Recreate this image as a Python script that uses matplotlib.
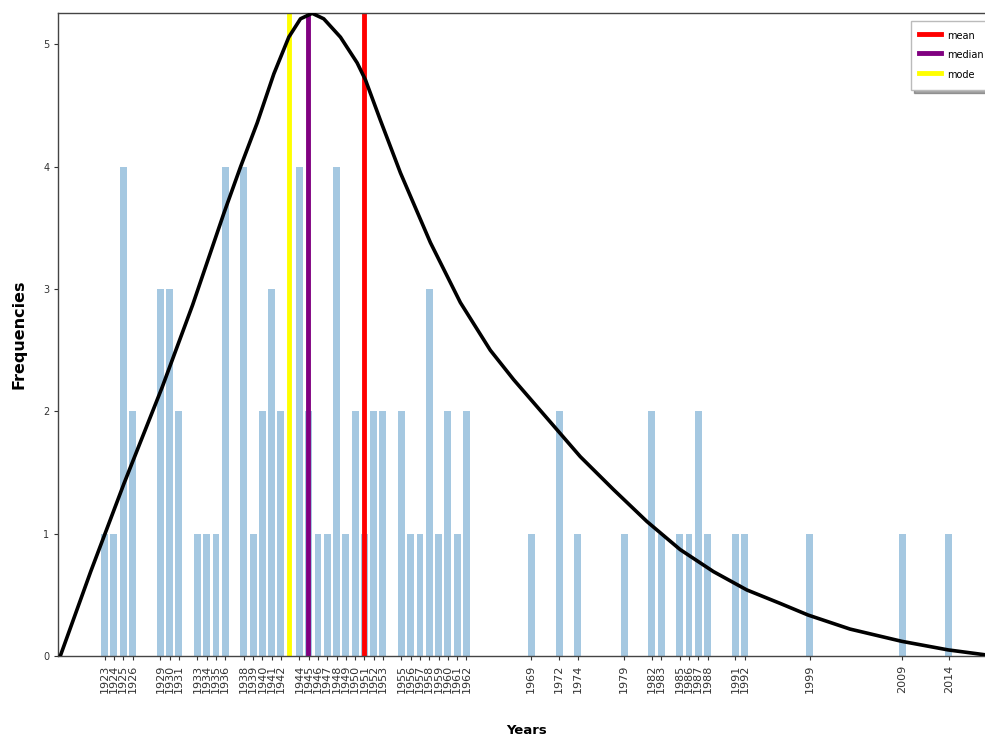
#Histogram of years with fitted curve and mean / median / mode markers
import numpy as np
import matplotlib.pyplot as plt

# years present in the data and how often each one occurs
years = [1923, 1924, 1925, 1926, 1929, 1930, 1931, 1933, 1934, 1935, 1936,
         1938, 1939, 1940, 1941, 1942, 1944, 1945, 1946, 1947, 1948, 1949,
         1950, 1951, 1952, 1953, 1955, 1956, 1957, 1958, 1959, 1960, 1961,
         1962, 1969, 1972, 1974, 1979, 1982, 1983, 1985, 1986, 1987, 1988,
         1991, 1992, 1999, 2009, 2014]
counts = [1, 1, 4, 2, 3, 3, 2, 1, 1, 1, 4,
          4, 1, 2, 3, 2, 4, 2, 1, 1, 4, 1,
          2, 1, 2, 2, 2, 1, 1, 3, 1, 2, 1,
          2, 1, 2, 1, 1, 2, 1, 1, 1, 2, 1,
          1, 1, 1, 1, 1]

# fitted density curve (scaled)
curve_x = [1918.26, 1921.49, 1925.08, 1929.21, 1932.48, 1935.85, 1937.65,
           1939.45, 1941.24, 1942.85, 1944.11, 1945.37, 1946.62, 1948.42,
           1950.22, 1951.12, 1952.73, 1954.89, 1958.12, 1961.35, 1964.58,
           1967.09, 1971.77, 1974.28, 1977.87, 1981.46, 1985.05, 1988.64,
           1992.24, 1995.83, 1998.84, 2003.37, 2008.94, 2013.93, 2017.91,
           2019.0]
curve_y = [0.01, 0.69, 1.41, 2.20, 2.87, 3.62, 4.00,
           4.36, 4.76, 5.06, 5.21, 5.255, 5.21, 5.06,
           4.85, 4.71, 4.38, 3.95, 3.38, 2.89, 2.50,
           2.26, 1.85, 1.63, 1.36, 1.10, 0.87, 0.69,
           0.54, 0.43, 0.335, 0.22, 0.12, 0.05, 0.01,
           0.005]

# summary statistics shown as vertical lines
stat_names = ['mean', 'median', 'mode']
stat_values = [1950.95, 1944.9, 1942.9]
stat_colors = ['red', 'purple', 'yellow']

fig = plt.figure(figsize=(9.85, 7.42), dpi=100)
# right edge of the axes sits just outside the picture (cropped original)
ax = fig.add_axes([0.0592, 0.1159, 0.951, 0.867])

ax.bar(years, counts, width=0.75, color='tab:blue', alpha=0.4, zorder=1)

# draw mode first so mean ends up on top, legend keeps mean/median/mode order
handles = {}
for name, val, col in reversed(list(zip(stat_names, stat_values, stat_colors))):
    handles[name] = ax.axvline(val, color=col, linewidth=3.5, label=name, zorder=2)

ax.plot(curve_x, curve_y, color='black', linewidth=2.6, zorder=3)

ax.set_xlim(1918, 2019)
ax.set_ylim(0, 5.26)

ax.set_xticks(years)
ax.set_xticklabels([str(y) for y in years], rotation=90, fontsize=8)
ax.set_yticks(range(6))
ax.tick_params(axis='y', labelsize=7)
ax.tick_params(length=3, width=0.8, colors='#333333')

for s in ax.spines.values():
    s.set_color('#444444')
    s.set_linewidth(1)

ax.set_xlabel('Years', fontsize=9.5, fontweight='bold', labelpad=22)
ax.set_ylabel('Frequencies', fontsize=11.5, fontweight='bold', labelpad=12)

ax.legend([handles[n] for n in stat_names], stat_names, loc='upper left',
          bbox_to_anchor=(0.9246, 0.9721), bbox_transform=fig.transFigure,
          borderaxespad=0, fontsize=7, shadow=True, fancybox=False,
          framealpha=1, edgecolor='#bbbbbb', borderpad=0.8, labelspacing=0.45,
          handlelength=2.3, handleheight=2.0, handletextpad=0.6)

plt.savefig('out.png', dpi=100)
